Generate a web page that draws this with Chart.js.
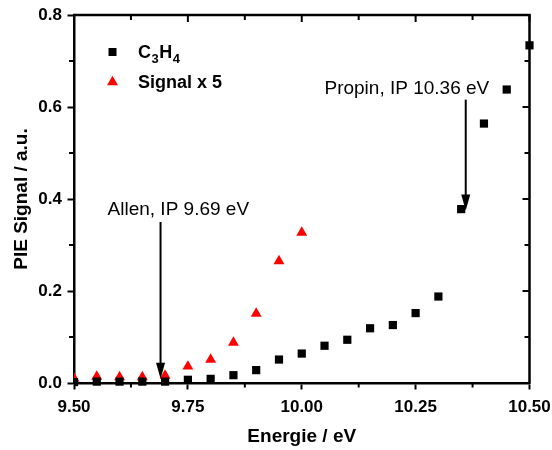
<!DOCTYPE html>
<html>
<head>
<meta charset="utf-8">
<script src="https://cdn.jsdelivr.net/npm/chart.js@4/dist/chart.umd.min.js"></script>
<style>
  html, body { margin: 0; padding: 0; background: #ffffff; }
  canvas { display: block; }
</style>
</head>
<body>
<canvas id="pie" width="552" height="450"></canvas>
<script>
// Photon energies (eV) and photoionisation efficiency signals
const energies = [9.50, 9.55, 9.60, 9.65, 9.70, 9.75, 9.80, 9.85, 9.90, 9.95,
                  10.00, 10.05, 10.10, 10.15, 10.20, 10.25, 10.30, 10.35, 10.40, 10.45, 10.50];
const c3h4Signal = [0.002, 0.003, 0.003, 0.003, 0.003, 0.007, 0.009, 0.017, 0.028, 0.051,
                    0.064, 0.081, 0.094, 0.119, 0.126, 0.152, 0.188, 0.378, 0.564, 0.638, 0.734];
const scaledEnergies = [9.50, 9.55, 9.60, 9.65, 9.70, 9.75, 9.80, 9.85, 9.90, 9.95, 10.00];
const scaledSignal = [0.010, 0.014, 0.013, 0.013, 0.016, 0.036, 0.051, 0.088, 0.151, 0.265, 0.327];

const seriesNames = ['C3H4', 'Signal x 5'];
const xTicks = [9.50, 9.75, 10.00, 10.25, 10.50];
const xMinorTicks = [9.625, 9.875, 10.125, 10.375];
const yTicks = [0.0, 0.2, 0.4, 0.6, 0.8];
const yMinorTicks = [0.1, 0.3, 0.5, 0.7];

// Ionisation thresholds marked with arrows: label, energy, arrow start / tip (signal units)
const markerLabels = ['Propin, IP 10.36 eV', 'Allen, IP 9.69 eV'];
const markerEnergies = [10.36, 9.69];
const markerFrom = [0.616, 0.350];
const markerTo = [0.375, 0.009];

const FONT = '"Liberation Sans", Arial, Helvetica, sans-serif';

const toPoints = (xs, ys) => xs.map((x, i) => ({ x: x, y: ys[i] }));

// Frame, ticks, threshold arrows and legend
const decorations = {
  id: 'decorations',
  afterDraw(chart) {
    const ctx = chart.ctx;
    const xs = chart.scales.x, ys = chart.scales.y;
    const a = chart.chartArea;
    ctx.save();
    ctx.strokeStyle = '#000';
    ctx.fillStyle = '#000';

    // top and right frame lines
    ctx.lineWidth = 2.5;
    ctx.beginPath();
    ctx.moveTo(a.left - 1, a.top);
    ctx.lineTo(a.right, a.top);
    ctx.lineTo(a.right, a.bottom + 1);
    ctx.stroke();

    ctx.lineWidth = 2;
    ctx.beginPath();
    // bottom / left minor ticks (outward)
    xMinorTicks.forEach(v => {
      const px = xs.getPixelForValue(v);
      ctx.moveTo(px, a.bottom); ctx.lineTo(px, a.bottom + 4.5);
    });
    yMinorTicks.forEach(v => {
      const py = ys.getPixelForValue(v);
      ctx.moveTo(a.left, py); ctx.lineTo(a.left - 5, py);
    });
    // top ticks (inward)
    xTicks.forEach(v => {
      const px = xs.getPixelForValue(v);
      ctx.moveTo(px, a.top); ctx.lineTo(px, a.top + 7);
    });
    xMinorTicks.forEach(v => {
      const px = xs.getPixelForValue(v);
      ctx.moveTo(px, a.top); ctx.lineTo(px, a.top + 5);
    });
    // right ticks (inward)
    yTicks.forEach(v => {
      const py = ys.getPixelForValue(v);
      ctx.moveTo(a.right, py); ctx.lineTo(a.right - 7, py);
    });
    yMinorTicks.forEach(v => {
      const py = ys.getPixelForValue(v);
      ctx.moveTo(a.right, py); ctx.lineTo(a.right - 5, py);
    });
    ctx.stroke();

    // threshold arrows
    const headLen = 16, headHalf = 4.5;
    markerEnergies.forEach((e, i) => {
      const px = xs.getPixelForValue(e);
      const y0 = ys.getPixelForValue(markerFrom[i]);
      const y1 = ys.getPixelForValue(markerTo[i]);
      ctx.lineWidth = 2;
      ctx.beginPath();
      ctx.moveTo(px, y0);
      ctx.lineTo(px, y1 - headLen + 2);
      ctx.stroke();
      ctx.beginPath();
      ctx.moveTo(px - headHalf, y1 - headLen);
      ctx.lineTo(px + headHalf, y1 - headLen);
      ctx.lineTo(px, y1);
      ctx.closePath();
      ctx.fill();
    });

    // threshold labels
    ctx.font = '19px ' + FONT;
    ctx.textBaseline = 'alphabetic';
    const pProp = xs.getPixelForValue(markerEnergies[0]);
    ctx.textAlign = 'right';
    ctx.fillText(markerLabels[0], pProp + 23.5, 94);
    const pAll = xs.getPixelForValue(markerEnergies[1]);
    ctx.textAlign = 'left';
    ctx.fillText(markerLabels[1], pAll - 53, 215);

    // legend
    const lx = 112.5;
    ctx.fillStyle = '#000';
    ctx.fillRect(lx - 4, 48, 8, 8);
    ctx.fillStyle = '#ff0000';
    const tr = 6.3, ty = 82;
    ctx.beginPath();
    ctx.moveTo(lx, ty - tr);
    ctx.lineTo(lx + 0.866 * tr, ty + 0.5 * tr);
    ctx.lineTo(lx - 0.866 * tr, ty + 0.5 * tr);
    ctx.closePath();
    ctx.fill();

    ctx.fillStyle = '#000';
    ctx.textAlign = 'left';
    // C3H4 with subscripts
    let tx = 138;
    const big = 'bold 18px ' + FONT, small = 'bold 13px ' + FONT;
    const parts = [['C', big, 0], ['3', small, 5], ['H', big, 0], ['4', small, 5]];
    parts.forEach(([t, f, dy]) => {
      ctx.font = f;
      ctx.fillText(t, tx, 57.5 + dy);
      tx += ctx.measureText(t).width + 0.5;
    });
    ctx.font = big;
    ctx.fillText(seriesNames[1], 138, 87.5);

    ctx.restore();
  }
};

// keep the plot frame fixed regardless of how far edge labels overhang
function fixBox(size, dim) {
  return function (scale) {
    scale[dim] = size;
    scale.paddingLeft = 0; scale.paddingRight = 0;
    scale.paddingTop = 0; scale.paddingBottom = 0;
  };
}

new Chart(document.getElementById('pie'), {
  type: 'scatter',
  data: {
    datasets: [
      {
        label: seriesNames[0],
        data: toPoints(energies, c3h4Signal),
        pointStyle: 'rect',
        pointRadius: 5.8,
        pointHoverRadius: 5.8,
        backgroundColor: '#000000',
        borderColor: '#000000',
        borderWidth: 0,
        clip: { left: 0, top: false, right: false, bottom: false }
      },
      {
        label: seriesNames[1],
        data: toPoints(scaledEnergies, scaledSignal),
        pointStyle: 'triangle',
        pointRadius: 6.3,
        pointHoverRadius: 6.3,
        backgroundColor: '#ff0000',
        borderColor: '#ff0000',
        borderWidth: 0,
        clip: { left: 0, top: false, right: false, bottom: false }
      }
    ]
  },
  options: {
    responsive: false,
    animation: false,
    events: [],
    layout: { padding: { left: 0, top: 15, right: 22.5, bottom: 0 } },
    plugins: {
      legend: { display: false },
      tooltip: { enabled: false }
    },
    scales: {
      x: {
        type: 'linear',
        min: 9.5,
        max: 10.5,
        afterFit: fixBox(67, 'height'),
        afterBuildTicks(scale) { scale.ticks = xTicks.map(v => ({ value: v })); },
        ticks: {
          color: '#000',
          padding: 7.5,
          maxRotation: 0,
          font: { family: FONT, size: 17, weight: 'bold' },
          callback: v => v.toFixed(2)
        },
        grid: {
          display: true,
          drawOnChartArea: false,
          drawTicks: true,
          tickLength: 6.5,
          tickWidth: 2,
          tickColor: '#000'
        },
        border: { display: true, color: '#000', width: 2.5 },
        title: {
          display: true,
          text: 'Energie / eV',
          color: '#000',
          font: { family: FONT, size: 19, weight: 'bold' },
          padding: { top: 0, bottom: 1.8 }
        }
      },
      y: {
        type: 'linear',
        min: 0,
        max: 0.8,
        afterFit: fixBox(74, 'width'),
        afterBuildTicks(scale) { scale.ticks = yTicks.map(v => ({ value: v })); },
        ticks: {
          color: '#000',
          padding: 5.5,
          font: { family: FONT, size: 17, weight: 'bold' },
          callback: v => v.toFixed(1)
        },
        grid: {
          display: true,
          drawOnChartArea: false,
          drawTicks: true,
          tickLength: 6.5,
          tickWidth: 2,
          tickColor: '#000'
        },
        border: { display: true, color: '#000', width: 2.5 },
        title: {
          display: true,
          text: 'PIE Signal / a.u.',
          color: '#000',
          font: { family: FONT, size: 19, weight: 'bold' },
          padding: { top: 10.3, bottom: 0 }
        }
      }
    }
  },
  plugins: [decorations]
});
</script>
</body>
</html>
